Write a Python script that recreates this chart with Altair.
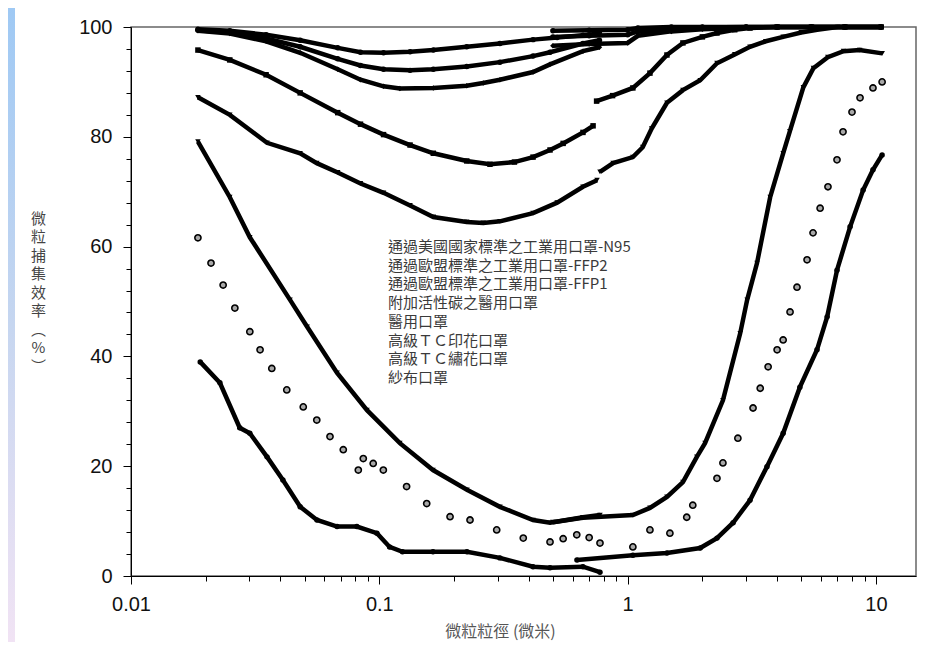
import altair as alt
import pandas as pd

LEGEND = [
    "通過美國國家標準之工業用口罩-N95",
    "通過歐盟標準之工業用口罩-FFP2",
    "通過歐盟標準之工業用口罩-FFP1",
    "附加活性碳之醫用口罩",
    "醫用口罩",
    "高級ＴＣ印花口罩",
    "高級ＴＣ繡花口罩",
    "紗布口罩",
]

# particle diameter (µm) / collection efficiency (%) ; S = small-particle scan, A = large-particle scan
N95_S_D = [0.0186, 0.025, 0.035, 0.048, 0.068, 0.084, 0.104, 0.133, 0.165, 0.225, 0.306, 0.416, 0.52, 0.661, 0.77]
N95_S_E = [99.6, 99.3, 98.6, 97.6, 96.2, 95.4, 95.3, 95.5, 95.8, 96.4, 97.0, 97.7, 98.1, 98.5, 98.8]
N95_A_D = [0.5, 0.7, 1.0, 1.1, 1.5, 2.0, 3.0, 4.0, 5.5, 7.5, 10.5]
N95_A_E = [99.3, 99.4, 99.5, 99.8, 100, 100, 100, 100, 100, 100, 100]

FFP2_S_D = [0.0186, 0.025, 0.035, 0.048, 0.068, 0.084, 0.104, 0.133, 0.165, 0.225, 0.306, 0.416, 0.487, 0.661, 0.77]
FFP2_S_E = [99.4, 99.0, 97.9, 96.4, 94.2, 93.0, 92.3, 92.1, 92.3, 92.8, 93.6, 94.7, 95.4, 97.0, 97.6]
FFP2_A_D = [0.5, 0.7, 1.0, 1.1, 1.5, 2.0, 3.0, 4.0, 5.5, 7.5, 10.5]
FFP2_A_E = [98.2, 98.4, 98.6, 99.2, 99.6, 99.9, 100, 100, 100, 100, 100]

FFP1_S_D = [0.0186, 0.025, 0.035, 0.048, 0.068, 0.084, 0.104, 0.121, 0.165, 0.225, 0.262, 0.306, 0.416, 0.487, 0.661, 0.77]
FFP1_S_E = [99.3, 98.8, 97.4, 95.3, 92.3, 90.4, 89.2, 88.8, 88.9, 89.3, 89.8, 90.4, 91.8, 93.2, 95.6, 96.3]
FFP1_A_D = [0.5, 0.7, 1.0, 1.1, 1.5, 2.0, 3.0, 4.0, 5.5, 7.5, 10.5]
FFP1_A_E = [96.6, 96.9, 97.1, 98.4, 99.2, 99.6, 99.9, 100, 100, 100, 100]

AC_S_D = [0.0186, 0.025, 0.035, 0.048, 0.068, 0.084, 0.104, 0.133, 0.165, 0.225, 0.279, 0.35, 0.416, 0.487, 0.55, 0.661, 0.726]
AC_S_E = [95.8, 94.0, 91.3, 88.0, 84.4, 82.3, 80.4, 78.5, 77.0, 75.6, 75.0, 75.4, 76.3, 77.6, 78.8, 80.8, 82.0]
AC_A_D = [0.75, 0.87, 1.05, 1.23, 1.44, 1.67, 2.0, 2.29, 2.7, 3.11, 4.0, 5.5, 7.5, 10.5]
AC_A_E = [86.5, 87.5, 88.9, 91.6, 94.9, 97.1, 98.2, 98.9, 99.5, 99.8, 100, 100, 100, 100]

MED_S_D = [0.0186, 0.025, 0.0353, 0.048, 0.056, 0.068, 0.084, 0.104, 0.133, 0.165, 0.225, 0.262, 0.306, 0.416, 0.52, 0.661, 0.753]
MED_S_E = [87.2, 84.0, 78.9, 77.0, 75.2, 73.5, 71.5, 69.8, 67.5, 65.4, 64.5, 64.3, 64.6, 66.1, 68.0, 70.9, 72.1]
MED_A_D = [0.774, 0.874, 1.05, 1.15, 1.25, 1.44, 1.67, 1.96, 2.29, 2.7, 3.11, 3.6, 4.23, 5.0, 5.8, 7.0, 10.5]
MED_A_E = [73.6, 75.2, 76.3, 78.1, 81.5, 86.2, 88.5, 90.3, 93.4, 95.0, 96.4, 97.4, 98.2, 99.0, 99.5, 100, 100]

TCP_S_D = [0.0186, 0.025, 0.0301, 0.0437, 0.0512, 0.0676, 0.0892, 0.121, 0.1645, 0.2254, 0.306, 0.416, 0.487, 0.661, 0.774]
TCP_S_E = [79.1, 69.0, 61.7, 50.3, 45.4, 37.0, 30.2, 24.2, 19.3, 15.7, 12.6, 10.2, 9.7, 10.7, 11.1]
TCP_A_D = [0.5, 0.66, 1.05, 1.23, 1.44, 1.67, 1.9, 2.05, 2.42, 2.84, 3.03, 3.32, 3.75, 4.23, 4.5, 5.1, 5.6, 6.4, 7.4, 8.6, 10.6]
TCP_A_E = [9.8, 10.6, 11.1, 12.4, 14.4, 17.1, 21.7, 24.2, 32.0, 44.2, 50.3, 57.0, 69.0, 77.0, 81.0, 89.0, 92.5, 94.5, 95.6, 95.8, 95.2]

TCE_S_D = [0.0186, 0.021, 0.0235, 0.0262, 0.0301, 0.0331, 0.0369, 0.0424, 0.0494, 0.056, 0.0633, 0.0716, 0.0823,
           0.0862, 0.0945, 0.1038, 0.1288, 0.1552, 0.1927, 0.2319, 0.297, 0.38, 0.487, 0.55, 0.624, 0.70, 0.774]
TCE_S_E = [61.6, 57.0, 53.0, 48.8, 44.5, 41.2, 37.8, 33.9, 30.8, 28.4, 25.4, 23.0, 19.3,
           21.4, 20.5, 19.3, 16.3, 13.2, 10.8, 10.2, 8.4, 6.9, 6.2, 6.8, 7.5, 7.0, 6.0]
TCE_A_D = [1.05, 1.23, 1.48, 1.73, 1.83, 2.29, 2.42, 2.78, 3.2, 3.42, 3.68, 4.0, 4.23, 4.51, 4.81, 5.28, 5.58,
           5.96, 6.41, 6.97, 7.37, 8.01, 8.63, 9.73, 10.59]
TCE_A_E = [5.3, 8.4, 7.8, 10.7, 12.9, 17.8, 20.6, 25.1, 30.6, 34.2, 38.1, 41.2, 43.0, 48.1, 52.6, 57.6, 62.5,
           67.0, 70.9, 75.8, 80.9, 84.5, 87.1, 88.9, 90.0]

GZ_S_D = [0.019, 0.0228, 0.0274, 0.0301, 0.0353, 0.0409, 0.048, 0.0561, 0.0676, 0.0812, 0.0978, 0.110, 0.124,
          0.1645, 0.2254, 0.306, 0.416, 0.487, 0.661, 0.774]
GZ_S_E = [39.0, 35.2, 27.0, 26.0, 21.7, 17.5, 12.6, 10.2, 9.0, 9.0, 7.8, 5.3, 4.4,
          4.4, 4.4, 3.3, 1.7, 1.5, 1.7, 0.7]
GZ_A_D = [0.625, 1.05, 1.44, 1.96, 2.29, 2.66, 3.11, 3.64, 4.23, 4.94, 5.79, 6.36, 6.97, 7.87, 8.88, 9.73, 10.59]
GZ_A_E = [2.9, 3.8, 4.2, 5.1, 6.9, 9.7, 13.8, 19.9, 26.0, 34.4, 41.2, 47.2, 55.7, 63.6, 70.3, 74.0, 76.7]

X_TICKS = [m * 10.0 ** p for p in (-2, -1, 0, 1) for m in range(1, 10) if m * 10.0 ** p <= 14.5]
X_TICKS = [float(f"{v:.4g}") for v in X_TICKS]
Y_TICKS = list(range(0, 101, 4))
Y_TITLE = ["微", "粒", "捕", "集", "效", "率", "︵", "%", "︶"]
X_TITLE = "微粒粒徑 (微米)"

SEGMENTS = [
    (LEGEND[0], "s", N95_S_D, N95_S_E), (LEGEND[0], "a", N95_A_D, N95_A_E),
    (LEGEND[1], "s", FFP2_S_D, FFP2_S_E), (LEGEND[1], "a", FFP2_A_D, FFP2_A_E),
    (LEGEND[2], "s", FFP1_S_D, FFP1_S_E), (LEGEND[2], "a", FFP1_A_D, FFP1_A_E),
    (LEGEND[3], "s", AC_S_D, AC_S_E), (LEGEND[3], "a", AC_A_D, AC_A_E),
    (LEGEND[4], "s", MED_S_D, MED_S_E), (LEGEND[4], "a", MED_A_D, MED_A_E),
    (LEGEND[5], "s", TCP_S_D, TCP_S_E), (LEGEND[5], "a", TCP_A_D, TCP_A_E),
    (LEGEND[6], "s", TCE_S_D, TCE_S_E), (LEGEND[6], "a", TCE_A_D, TCE_A_E),
    (LEGEND[7], "s", GZ_S_D, GZ_S_E), (LEGEND[7], "a", GZ_A_D, GZ_A_E),
]
rows = []
for name, seg, ds, es in SEGMENTS:
    for d, e in zip(ds, es):
        rows.append({"series": name, "seg": name + seg, "d": d, "E": e})
df = pd.DataFrame(rows)

CJK = "Noto Sans CJK TC"
LAT = "Liberation Sans"
W, H = 785, 549
PAD = {"left": 123, "top": 19, "right": 8, "bottom": 66}

major_x = "abs(log(datum.value)/LN10 - round(log(datum.value)/LN10)) < 0.001"
x_axis = alt.Axis(
    values=X_TICKS, labelExpr=f"{major_x} ? '' + datum.value : ''",
    tickSize={"condition": {"test": major_x, "value": 8}, "value": 5},
    labelFont=LAT, labelFontSize=20, labelColor="#111", labelPadding=10,
    labelFlush=False, labelOverlap=False, grid=False,
    domainColor="black", tickColor="black",
    title=X_TITLE, titleFont=CJK, titleFontSize=16, titleFontWeight="normal",
    titleColor="#555", titleX=369, titleY=55, titleAlign="center", titleBaseline="middle",
)
y_axis = alt.Axis(
    values=Y_TICKS, labelExpr="datum.value % 20 == 0 ? datum.label : ''",
    tickSize={"condition": {"test": "datum.value % 20 == 0", "value": 8}, "value": 5},
    labelFont=LAT, labelFontSize=20, labelColor="#111", labelPadding=11,
    labelFlush=False, labelOverlap=False, grid=False,
    domainColor="black", tickColor="black",
    title=Y_TITLE, titleAngle=0, titleFont=CJK, titleFontSize=15, titleFontWeight="normal",
    titleColor="#444", titleX=-93, titleY=184, titleAlign="center", titleBaseline="top",
    titleLineHeight=18.5,
)

xs = alt.Scale(type="log", domain=[0.01, 14.5], nice=False)
ys = alt.Scale(domain=[0, 100], nice=False)

base = alt.Chart(df).encode(
    x=alt.X("d:Q", scale=xs, axis=x_axis),
    y=alt.Y("E:Q", scale=ys, axis=y_axis),
)

not_open = alt.datum.series != LEGEND[6]
WIDTHS = [4.5, 4.5, 4.5, 4.0, 3.2, 3.0, 1, 3.8]
lines = base.transform_filter(not_open).mark_line(color="black").encode(
    detail="seg:N", order="d:Q",
    strokeWidth=alt.StrokeWidth("series:N", scale=alt.Scale(domain=LEGEND, range=WIDTHS), legend=None),
)

SHAPES = ["circle", "circle", "diamond", "square", "triangle-down", "triangle-down", "circle", "circle"]
SIZES = [30, 30, 36, 40, 50, 55, 40, 45]
pts = base.transform_filter(not_open).mark_point(filled=True, color="black", opacity=1).encode(
    shape=alt.Shape("series:N", scale=alt.Scale(domain=LEGEND, range=SHAPES), legend=None),
    size=alt.Size("series:N", scale=alt.Scale(domain=LEGEND, range=SIZES), legend=None),
)
open_pts = base.transform_filter(alt.datum.series == LEGEND[6]).mark_point(
    shape="circle", size=38, fill="#a8a8a8", fillOpacity=1, stroke="black", strokeWidth=1.6, opacity=1)

one = pd.DataFrame({"k": [0]})
legend_text = alt.Chart(one).mark_text(
    text=LEGEND, align="left", baseline="top", font=CJK, fontSize=15, lineHeight=18.7, color="#3a3a3a"
).encode(x=alt.value(257), y=alt.value(213))

band = alt.Chart(one).mark_rect(
    fill=alt.Gradient(gradient="linear", x1=0, y1=0, x2=0, y2=1,
                      stops=[alt.GradientStop(offset=0, color="#9fc9f4"),
                             alt.GradientStop(offset=0.5, color="#c6d6f0"),
                             alt.GradientStop(offset=1, color="#f1e3f4")]),
).encode(x=alt.value(-PAD["left"]), x2=alt.value(-PAD["left"] + 7),
         y=alt.value(-PAD["top"]), y2=alt.value(H + PAD["bottom"]))

chart = alt.layer(band, lines, pts, open_pts, legend_text).properties(
    width=W, height=H, padding=PAD, autosize=alt.AutoSizeParams(type="none"), background="white"
).configure_view(stroke="#666", strokeWidth=1.5).configure_axis(domainWidth=1, tickWidth=1)

chart.save("out.html", embed_options={"renderer": "svg", "actions": False})
